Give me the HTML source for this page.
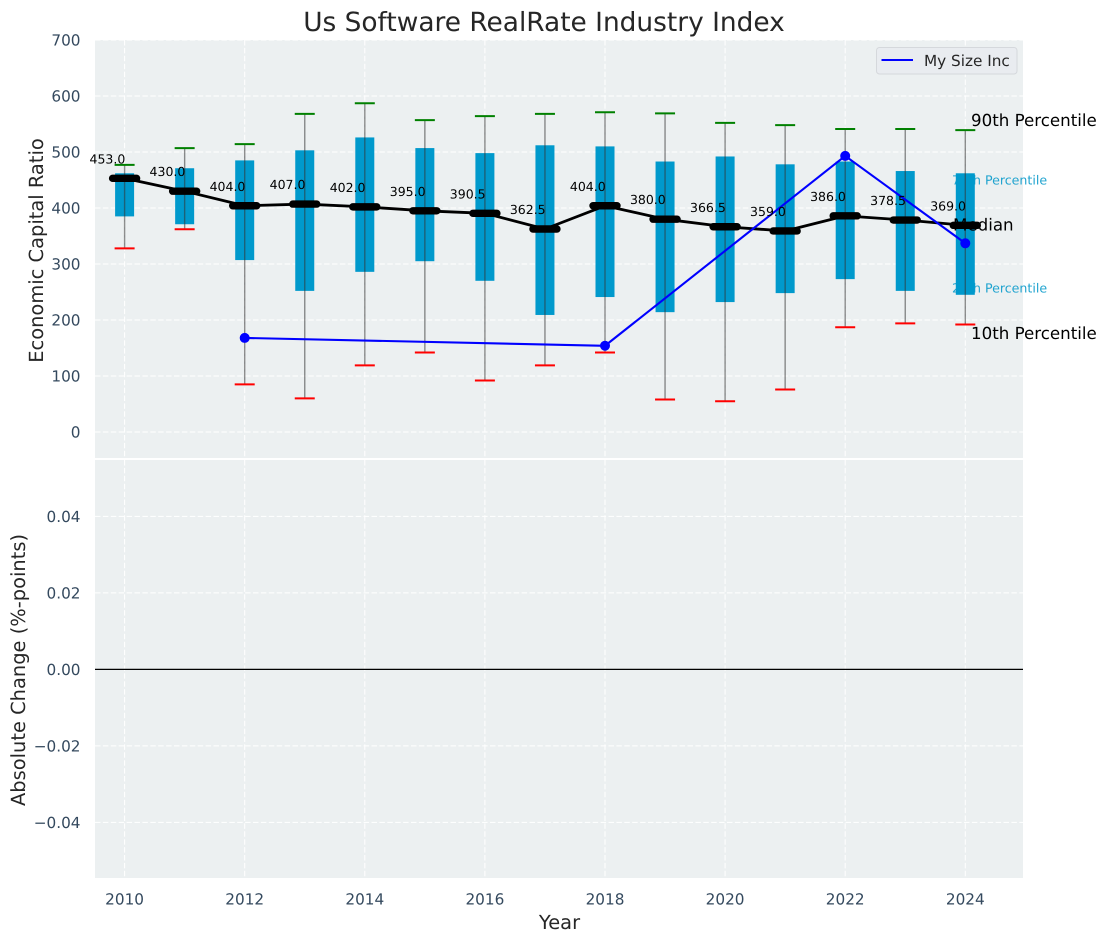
<!DOCTYPE html>
<html>
<head>
<meta charset="utf-8">
<title>Us Software RealRate Industry Index</title>
<style>
html,body{margin:0;padding:0;background:#fff;width:1106px;height:942px;overflow:hidden}
svg{display:block;font-family:"DejaVu Sans","Liberation Sans",sans-serif;text-rendering:geometricPrecision}
</style>
</head>
<body>
<svg id="chart" width="1106" height="942" viewBox="0 0 1106 942" xmlns="http://www.w3.org/2000/svg"></svg>
<script>
const years = [2010,2011,2012,2013,2014,2015,2016,2017,2018,2019,2020,2021,2022,2023,2024];
const p90 = [477,507,514,568,587,557,564,568,571,569,552,548,541,541,539];
const p75 = [462,471,485,503,526,507,498,512,510,483,492,478,483,466,462];
const medians = [453,430,404,407,402,395,390.5,362.5,404,380,366.5,359,386,378.5,369];
const p25 = [385,371,307,252,286,305,270,209,241,214,232,248,273,252,245];
const p10 = [328,362,85,60,119,142,92,119,142,58,55,76,187,194,192];
const companyYears = [2012,2018,2022,2024];
const companyValues = [168,154,493,337];
const topTicks = [0,100,200,300,400,500,600,700];
const bottomTicks = [-0.04,-0.02,0,0.02,0.04];
const bottomTickLabels = ['\u22120.04','\u22120.02','0.00','0.02','0.04'];
const xTicks = [2010,2012,2014,2016,2018,2020,2022,2024];

const NS = 'http://www.w3.org/2000/svg';
const svg = document.getElementById('chart');
const L = 95, R = 1023, T1 = 40, B1 = 458, T2 = 460, B2 = 878;
const TICK = '#34495e', BOX = '#0099cc', PANEL = '#ecf0f1';
const DASH = '5.5 2.4';

function x(v){ return 124.6 + (v - 2010) * 60.05; }
function yTop(v){ return 432 - v * 0.56; }
function yBottom(v){ return 669.4 - v * 3825; }

function make(tag, attrs, text){
  const el = document.createElementNS(NS, tag);
  for (const k in attrs) el.setAttribute(k, attrs[k]);
  if (text !== undefined) el.textContent = text;
  svg.appendChild(el);
  return el;
}

let el;
el = make('rect', {x:L, y:T1, width:R-L, height:B1-T1, fill:PANEL});


el = make('rect', {x:L, y:T2, width:R-L, height:B2-T2, fill:PANEL});



xTicks.forEach(function(t){
  el = make('line', {x1:x(t), x2:x(t), y1:T1, y2:B1, stroke:'#fff', 'stroke-width':1, 'stroke-dasharray':DASH});
  
  
  el = make('line', {x1:x(t), x2:x(t), y1:T2, y2:B2, stroke:'#fff', 'stroke-width':1, 'stroke-dasharray':DASH});
  
  
  el = make('text', {x:x(t), y:904.5, 'text-anchor':'middle', 'font-size':15.28, fill:TICK}, String(t));
  
  
});

topTicks.forEach(function(t){
  el = make('line', {x1:L, x2:R, y1:yTop(t), y2:yTop(t), stroke:'#fff', 'stroke-width':1, 'stroke-dasharray':DASH});
  
  
  el = make('text', {x:80.5, y:yTop(t)+5.5, 'text-anchor':'end', 'font-size':15.28, fill:TICK}, String(t));
  
  
});

bottomTicks.forEach(function(t, i){
  el = make('line', {x1:L, x2:R, y1:yBottom(t), y2:yBottom(t), stroke:'#fff', 'stroke-width':1, 'stroke-dasharray':DASH});
  
  
  el = make('text', {x:80.5, y:yBottom(t)+5.5, 'text-anchor':'end', 'font-size':15.28, fill:TICK}, bottomTickLabels[i]);
  
  
});

el = make('line', {x1:L, x2:R, y1:yBottom(0), y2:yBottom(0), stroke:'#000', 'stroke-width':1.2});



el = make('text', {x:952, y:184.5, 'font-size':12.6, fill:'#1fa3cf'}, '75th Percentile');


el = make('text', {x:952, y:292.5, 'font-size':12.6, fill:'#1fa3cf'}, '25th Percentile');



years.forEach(function(yr, i){
  const cx = x(yr);
  el = make('rect', {x:cx-9.5, y:yTop(p75[i]), width:19, height:yTop(p25[i])-yTop(p75[i]), fill:BOX});
  
  
  el = make('line', {x1:cx, x2:cx, y1:yTop(p90[i]), y2:yTop(p10[i]), stroke:'#333', 'stroke-opacity':0.55, 'stroke-width':1.4});
  
  
  el = make('line', {x1:cx-10, x2:cx+10, y1:yTop(p90[i]), y2:yTop(p90[i]), stroke:'#008000', 'stroke-width':2});
  
  
  el = make('line', {x1:cx-10, x2:cx+10, y1:yTop(p10[i]), y2:yTop(p10[i]), stroke:'#ff0000', 'stroke-width':2});
  
  
});

el = make('polyline', {points:years.map(function(yr,i){ return x(yr)+','+yTop(medians[i]); }).join(' '), fill:'none', stroke:'#000', 'stroke-width':2.8, 'stroke-linejoin':'round'});



years.forEach(function(yr, i){
  const cx = x(yr), cy = yTop(medians[i]);
  el = make('line', {x1:cx-12, x2:cx+12, y1:cy, y2:cy, stroke:'#000', 'stroke-width':7.4, 'stroke-linecap':'round'});
  
  
});

el = make('polyline', {points:companyYears.map(function(yr,i){ return x(yr)+','+yTop(companyValues[i]); }).join(' '), fill:'none', stroke:'#0000ff', 'stroke-width':2.1});


companyYears.forEach(function(yr, i){
  el = make('circle', {cx:x(yr), cy:yTop(companyValues[i]), r:5, fill:'#0000ff'});
  
  
});

years.forEach(function(yr, i){
  el = make('text', {x:x(yr)+0.7, y:yTop(medians[i])-15, 'text-anchor':'end', 'font-size':12.5, fill:'#000'}, medians[i].toFixed(1));
  
  
});

el = make('text', {x:971, y:126, 'font-size':16.67, fill:'#000'}, '90th Percentile');


el = make('text', {x:953, y:230.5, 'font-size':16.67, fill:'#000'}, 'Median');


el = make('text', {x:971, y:339, 'font-size':16.67, fill:'#000'}, '10th Percentile');



el = make('rect', {x:876.5, y:47.5, width:140.5, height:26.5, rx:3, fill:'#e9ecf0', stroke:'#d5d8dc', 'stroke-width':1});


el = make('line', {x1:881.5, x2:913, y1:60, y2:60, stroke:'#0000ff', 'stroke-width':2.1});


el = make('text', {x:924, y:66, 'font-size':15.28, fill:'#262626'}, 'My Size Inc');



el = make('text', {x:544, y:31, 'text-anchor':'middle', 'font-size':26.4, fill:'#262626'}, 'Us Software RealRate Industry Index');


el = make('text', {x:559.5, y:929, 'text-anchor':'middle', 'font-size':19.44, fill:'#262626'}, 'Year');


el = make('text', {x:0, y:0, transform:'translate(43,250.5) rotate(-90)', 'text-anchor':'middle', 'font-size':19.44, fill:'#262626'}, 'Economic Capital Ratio');


el = make('text', {x:0, y:0, transform:'translate(25,670) rotate(-90)', 'text-anchor':'middle', 'font-size':19.44, fill:'#262626'}, 'Absolute Change (%-points)');


</script>
</body>
</html>
